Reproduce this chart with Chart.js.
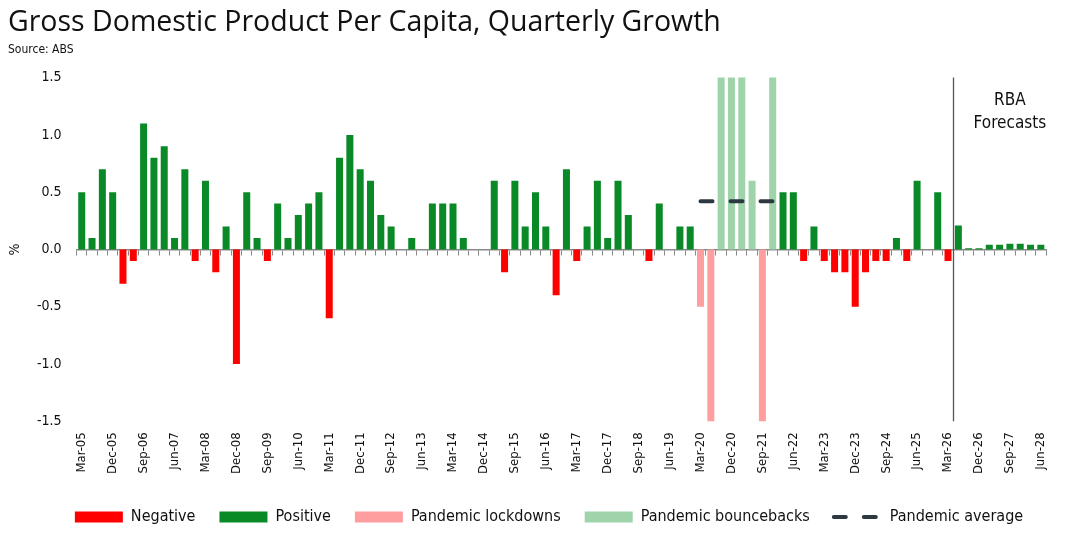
<!DOCTYPE html>
<html>
<head>
<meta charset="utf-8">
<script src="https://cdn.jsdelivr.net/npm/chart.js@4"></script>
<style>
  body { margin: 0; background: #fff; }
</style>
</head>
<body>
<canvas id="gdpChart" width="1090" height="545"></canvas>
<script>
const quarters = [
    'Mar-05', 'Jun-05', 'Sep-05', 'Dec-05', 'Mar-06', 'Jun-06', 'Sep-06', 'Dec-06',
    'Mar-07', 'Jun-07', 'Sep-07', 'Dec-07', 'Mar-08', 'Jun-08', 'Sep-08', 'Dec-08',
    'Mar-09', 'Jun-09', 'Sep-09', 'Dec-09', 'Mar-10', 'Jun-10', 'Sep-10', 'Dec-10',
    'Mar-11', 'Jun-11', 'Sep-11', 'Dec-11', 'Mar-12', 'Jun-12', 'Sep-12', 'Dec-12',
    'Mar-13', 'Jun-13', 'Sep-13', 'Dec-13', 'Mar-14', 'Jun-14', 'Sep-14', 'Dec-14',
    'Mar-15', 'Jun-15', 'Sep-15', 'Dec-15', 'Mar-16', 'Jun-16', 'Sep-16', 'Dec-16',
    'Mar-17', 'Jun-17', 'Sep-17', 'Dec-17', 'Mar-18', 'Jun-18', 'Sep-18', 'Dec-18',
    'Mar-19', 'Jun-19', 'Sep-19', 'Dec-19', 'Mar-20', 'Jun-20', 'Sep-20', 'Dec-20',
    'Mar-21', 'Jun-21', 'Sep-21', 'Dec-21', 'Mar-22', 'Jun-22', 'Sep-22', 'Dec-22',
    'Mar-23', 'Jun-23', 'Sep-23', 'Dec-23', 'Mar-24', 'Jun-24', 'Sep-24', 'Dec-24',
    'Mar-25', 'Jun-25', 'Sep-25', 'Dec-25', 'Mar-26', 'Jun-26', 'Sep-26', 'Dec-26',
    'Mar-27', 'Jun-27', 'Sep-27', 'Dec-27', 'Mar-28', 'Jun-28'
];

// quarterly growth in GDP per capita, %
const growth = [
    0.5, 0.1, 0.7, 0.5, -0.3, -0.1, 1.1, 0.8,
    0.9, 0.1, 0.7, -0.1, 0.6, -0.2, 0.2, -1.0,
    0.5, 0.1, -0.1, 0.4, 0.1, 0.3, 0.4, 0.5,
    -0.6, 0.8, 1.0, 0.7, 0.6, 0.3, 0.2, 0.0,
    0.1, 0.0, 0.4, 0.4, 0.4, 0.1, 0.0, 0.0,
    0.6, -0.2, 0.6, 0.2, 0.5, 0.2, -0.4, 0.7,
    -0.1, 0.2, 0.6, 0.1, 0.6, 0.3, 0.0, -0.1,
    0.4, 0.0, 0.2, 0.2, -0.5, -7.2, 3.3, 3.1,
    1.8, 0.6, -2.0, 3.2, 0.5, 0.5, -0.1, 0.2,
    -0.1, -0.2, -0.2, -0.5, -0.2, -0.1, -0.1, 0.1,
    -0.1, 0.6, 0.0, 0.5, -0.1, 0.21, 0.01, 0.01,
    0.04, 0.04, 0.05, 0.05, 0.04, 0.04
];

const lockdowns = ['Mar-20', 'Jun-20', 'Sep-21'];
const bouncebacks = ['Sep-20', 'Dec-20', 'Mar-21', 'Jun-21', 'Dec-21'];
const pandemicSpan = ['Mar-20', 'Dec-21'];
const pandemicAverage = 0.42;
const forecastFrom = 'Jun-26';

const yMin = -1.5;
const yMax = 1.5;
const yStep = 0.5;

const narrow = "'Liberation Sans Narrow', 'DejaVu Sans Condensed', 'Roboto', sans-serif";
const avgDash = [12, 18];

function isPandemic(q) {
    return lockdowns.includes(q) || bouncebacks.includes(q);
}

const negativeData = growth.map((v, i) => (!isPandemic(quarters[i]) && v < 0) ? v : null);
const positiveData = growth.map((v, i) => (!isPandemic(quarters[i]) && v >= 0) ? v : null);
const lockdownData = growth.map((v, i) => lockdowns.includes(quarters[i]) ? v : null);
const bouncebackData = growth.map((v, i) => bouncebacks.includes(quarters[i]) ? v : null);

const avgStart = quarters.indexOf(pandemicSpan[0]);
const avgEnd = quarters.indexOf(pandemicSpan[1]);
const averageData = quarters.map((q, i) => (i >= avgStart && i <= avgEnd) ? pandemicAverage : null);

// vertical divider + "RBA Forecasts" note
const forecastMarker = {
    id: 'forecastMarker',
    afterDatasetsDraw(chart) {
        const { ctx, chartArea, scales } = chart;
        const idx = quarters.indexOf(forecastFrom);
        const x = Math.round((scales.x.getPixelForValue(idx - 1) + scales.x.getPixelForValue(idx)) / 2) + 0.5;
        ctx.save();
        ctx.strokeStyle = '#555';
        ctx.lineWidth = 1.3;
        ctx.beginPath();
        ctx.moveTo(x, chartArea.top);
        ctx.lineTo(x, chartArea.bottom);
        ctx.stroke();

        const tx = scales.x.getPixelForValue(quarters.indexOf('Sep-27'));
        ctx.fillStyle = '#111';
        ctx.font = '17px ' + narrow;
        ctx.textAlign = 'center';
        ctx.textBaseline = 'middle';
        ctx.fillText('RBA', tx, scales.y.getPixelForValue(1.3));
        ctx.fillText('Forecasts', tx, scales.y.getPixelForValue(1.1));
        ctx.restore();
    }
};

const barStyle = {
    borderWidth: 0,
    pointStyle: 'rect',
    grouped: false,
    barPercentage: 0.68,
    categoryPercentage: 1.0
};

const ctx = document.getElementById('gdpChart').getContext('2d');
new Chart(ctx, {
    type: 'bar',
    data: {
        labels: quarters,
        datasets: [
            Object.assign({ label: 'Negative', data: negativeData, backgroundColor: '#FF0000' }, barStyle),
            Object.assign({ label: 'Positive', data: positiveData, backgroundColor: '#0A8A27' }, barStyle),
            Object.assign({ label: 'Pandemic lockdowns', data: lockdownData, backgroundColor: '#FF9E9E' }, barStyle),
            Object.assign({ label: 'Pandemic bouncebacks', data: bouncebackData, backgroundColor: '#9FD3AA' }, barStyle),
            {
                type: 'line',
                label: 'Pandemic average',
                data: averageData,
                order: -1,
                borderColor: '#2D3940',
                backgroundColor: '#2D3940',
                borderWidth: 4,
                borderDash: avgDash,
                borderCapStyle: 'round',
                pointRadius: 0,
                pointHoverRadius: 0,
                pointStyle: 'line',
                fill: false,
                spanGaps: false
            }
        ]
    },
    options: {
        responsive: false,
        animation: false,
        layout: { padding: { left: 8, right: 0, top: 0, bottom: 10 } },
        plugins: {
            title: {
                display: true,
                text: 'Gross Domestic Product Per Capita, Quarterly Growth',
                align: 'start',
                color: '#111',
                font: { family: "'Open Sans', sans-serif", size: 28.5, weight: 'normal' },
                padding: { top: 6, bottom: 0 }
            },
            subtitle: {
                display: true,
                text: 'Source: ABS',
                align: 'start',
                color: '#111',
                font: { family: narrow, size: 12 },
                padding: { top: 2, bottom: 21 }
            },
            legend: {
                position: 'bottom',
                labels: {
                    usePointStyle: true,
                    pointStyleWidth: 48,
                    boxHeight: 11,
                    padding: 24,
                    color: '#111',
                    font: { family: narrow, size: 16 },
                    sort: (a, b) => a.datasetIndex - b.datasetIndex,
                    generateLabels: function (chart) {
                        const items = Chart.defaults.plugins.legend.labels.generateLabels(chart);
                        items.forEach(item => {
                            if (item.pointStyle === 'line') {
                                item.lineDash = avgDash;
                                item.lineCap = 'round';
                                item.lineWidth = 4;
                            }
                        });
                        return items;
                    }
                }
            },
            tooltip: { enabled: false }
        },
        scales: {
            x: {
                grid: { display: false, drawTicks: false },
                border: { display: false },
                ticks: {
                    autoSkip: false,
                    minRotation: 90,
                    maxRotation: 90,
                    padding: 11,
                    color: '#111',
                    font: { family: narrow, size: 13 },
                    callback: function (value, index) {
                        return index % 3 === 0 ? quarters[index] : '';
                    }
                }
            },
            xZero: {
                type: 'category',
                position: { y: 0 },
                offset: true,
                grid: {
                    offset: true,
                    drawOnChartArea: false,
                    drawTicks: true,
                    tickLength: 5,
                    color: '#888'
                },
                border: { display: true, color: '#888', width: 1.5 },
                ticks: { display: false }
            },
            y: {
                min: yMin,
                max: yMax,
                grid: { display: false, drawTicks: false },
                border: { display: false },
                ticks: {
                    stepSize: yStep,
                    padding: 15,
                    color: '#111',
                    font: { family: narrow, size: 14 },
                    callback: v => v.toFixed(1)
                },
                title: {
                    display: true,
                    text: '%',
                    color: '#111',
                    font: { family: narrow, size: 14, lineHeight: 1.0 },
                    padding: { top: 0, bottom: 0 }
                }
            },
            // empty right-hand gutter
            yGutter: {
                type: 'linear',
                position: 'right',
                grid: { display: false, drawTicks: false },
                border: { display: false },
                ticks: { display: false },
                afterFit: function (scale) {
                    scale.width = 44;
                }
            }
        }
    },
    plugins: [forecastMarker]
});
</script>
</body>
</html>
